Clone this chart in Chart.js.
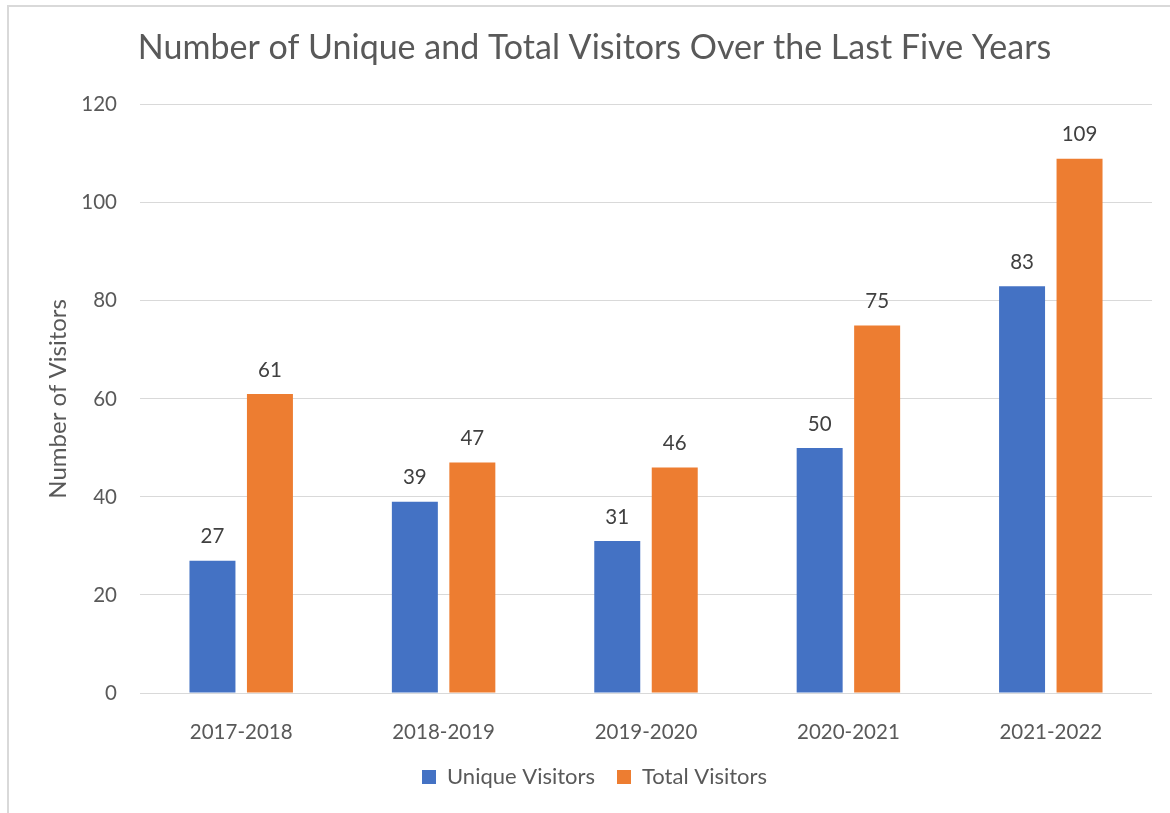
<!DOCTYPE html>
<html>
<head>
<meta charset="utf-8">
<script src="https://cdn.jsdelivr.net/npm/chart.js@4.4.0/dist/chart.umd.min.js"></script>
<style>
  html, body { margin: 0; padding: 0; background: #ffffff; }
  #wrap { position: relative; width: 1170px; height: 813px; overflow: hidden; }
  #frame { position: absolute; left: 7px; top: 5px; width: 1200px; height: 900px;
           border-left: 2px solid #d9d9d9; border-top: 2px solid #d9d9d9; box-sizing: border-box; }
  canvas { position: absolute; left: 0; top: 0; }
</style>
</head>
<body>
<div id="wrap">
  <div id="frame"></div>
  <canvas id="c" width="1170" height="813"></canvas>
</div>
<script>
const categories = ["2017-2018", "2018-2019", "2019-2020", "2020-2021", "2021-2022"];
const uniqueVisitors = [27, 39, 31, 50, 83];
const totalVisitors = [61, 47, 46, 75, 109];
const titleText = "Number of Unique and Total Visitors Over the Last Five Years";
const yAxisTitle = "Number of Visitors";
const yTicks = { min: 0, max: 120, step: 20 };

const FONT = "Lato, 'Open Sans', sans-serif";

const dataLabels = {
  id: 'dataLabels',
  afterDatasetsDraw(chart) {
    const ctx = chart.ctx;
    ctx.save();
    ctx.font = "20.5px " + FONT;
    ctx.fillStyle = "#404040";
    ctx.textAlign = "center";
    ctx.textBaseline = "middle";
    chart.data.datasets.forEach((ds, di) => {
      const meta = chart.getDatasetMeta(di);
      meta.data.forEach((el, i) => {
        ctx.fillText(String(ds.data[i]), el.x, el.y - 24);
      });
    });
    ctx.restore();
  }
};

new Chart(document.getElementById('c'), {
  type: 'bar',
  data: {
    labels: categories,
    datasets: [
      { label: "Unique Visitors", data: uniqueVisitors, backgroundColor: "#4472C4",
        categoryPercentage: 0.568, barPercentage: 0.8 },
      { label: "Total Visitors", data: totalVisitors, backgroundColor: "#ED7D31",
        categoryPercentage: 0.568, barPercentage: 0.8 }
    ]
  },
  options: {
    responsive: false,
    animation: false,
    layout: { padding: { left: 37, right: 18, top: 0, bottom: 15 } },
    plugins: {
      title: {
        display: true, text: titleText, color: "#595959",
        font: { family: FONT, size: 34, weight: 'normal', lineHeight: 1.2 },
        padding: { top: 28, bottom: 36 }
      },
      legend: {
        position: 'bottom',
        labels: {
          color: "#595959", boxWidth: 14, boxHeight: 14, padding: 22,
          font: { family: FONT, size: 22 }
        }
      },
      tooltip: { enabled: false }
    },
    scales: {
      x: {
        grid: { display: false },
        border: { display: false },
        ticks: { color: "#595959", font: { family: FONT, size: 20.5 }, padding: 19, maxRotation: 0 },
        afterFit(scale) { scale.height = 51; }
      },
      y: {
        min: yTicks.min, max: yTicks.max,
        grid: { color: "#d9d9d9", lineWidth: 1, drawTicks: false },
        border: { display: false },
        ticks: { stepSize: yTicks.step, color: "#595959", font: { family: FONT, size: 20.5 }, padding: 23 },
        title: { display: true, text: yAxisTitle, color: "#595959",
                 font: { family: FONT, size: 24 }, padding: { top: 7, bottom: 0 } },
        afterFit(scale) { scale.width = 103; }
      }
    }
  },
  plugins: [dataLabels]
});
</script>
</body>
</html>
